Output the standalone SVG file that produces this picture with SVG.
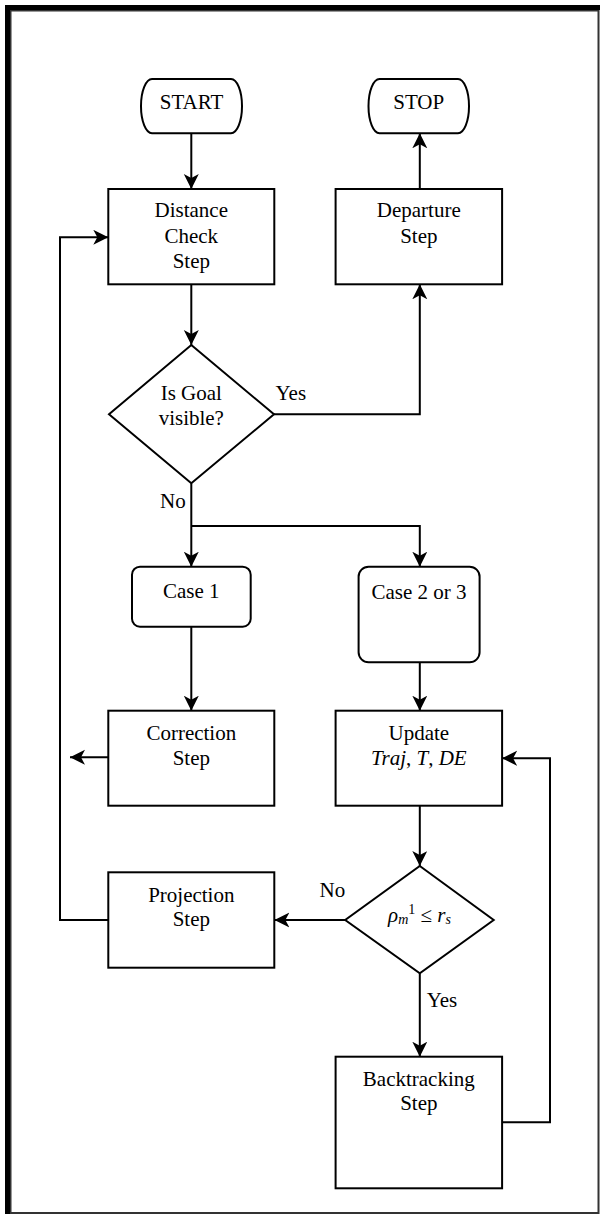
<svg xmlns="http://www.w3.org/2000/svg" width="600" height="1216" viewBox="0 0 600 1216">
<style>
.box{fill:#fff;stroke:#000;stroke-width:2}
.t{font-family:"Liberation Serif","Times New Roman",serif;font-size:21px;fill:#000;text-anchor:middle}
.l{font-family:"Liberation Serif","Times New Roman",serif;font-size:21px;fill:#000}
.c{fill:none;stroke:#000;stroke-width:2}
.i{font-style:italic}
</style>
<defs>
<marker id="ah" markerUnits="userSpaceOnUse" markerWidth="16" markerHeight="16" refX="15" refY="7.5" orient="auto">
<path d="M0,0 L15,7.5 L0,15 L4,7.5 z" fill="#000"/>
</marker>
</defs>
<rect x="0" y="0" width="600" height="1216" fill="#fff"/>
<g id="frame">
<rect x="10.5" y="10.5" width="588" height="1202.5" fill="none" stroke="#333" stroke-width="2"/>
<rect x="5" y="5" width="5" height="1209" fill="#000"/>
<rect x="5" y="5" width="595" height="5" fill="#000"/>
</g>
<g id="connectors">
<path class="c" d="M191.3,133.3 V189" marker-end="url(#ah)"/>
<path class="c" d="M191.3,284.3 V345" marker-end="url(#ah)"/>
<path class="c" d="M274,414.3 H419.8 V284.3" marker-end="url(#ah)"/>
<path class="c" d="M419.8,189 V133.3" marker-end="url(#ah)"/>
<path class="c" d="M191.3,483.3 V566.7" marker-end="url(#ah)"/>
<path class="c" d="M191.3,526 H419.8 V566.7" marker-end="url(#ah)"/>
<path class="c" d="M191.3,626.7 V710.7" marker-end="url(#ah)"/>
<path class="c" d="M419.8,627.3 V710.7" marker-end="url(#ah)"/>
<path class="c" d="M108.3,757.3 H70" marker-end="url(#ah)"/>
<path class="c" d="M419.8,805.7 V866" marker-end="url(#ah)"/>
<path class="c" d="M345.2,920 H274.4" marker-end="url(#ah)"/>
<path class="c" d="M108.3,920 H60 V237.3 H108.3" marker-end="url(#ah)"/>
<path class="c" d="M419.8,973.3 V1056.7" marker-end="url(#ah)"/>
<path class="c" d="M502.1,1122.3 H550 V758.3 H502.1" marker-end="url(#ah)"/>
<text class="l" x="275.5" y="400">Yes</text>
<text class="l" x="160" y="508.3">No</text>
<text class="l" x="319.5" y="896.7">No</text>
<text class="l" x="426.7" y="1006.7">Yes</text>
</g>
<g id="start">
<rect class="box" x="141" y="79" width="101" height="54.3" rx="11" ry="27"/>
<text class="t" x="191.5" y="108.5">START</text>
</g>
<g id="stop">
<rect class="box" x="368.5" y="79" width="100.5" height="54.3" rx="11" ry="27"/>
<text class="t" x="418.7" y="108.5">STOP</text>
</g>
<g id="distance">
<rect class="box" x="108.3" y="189" width="166" height="95.3"/>
<text class="t" x="191.3" y="217.3">Distance</text>
<text class="t" x="191.3" y="243">Check</text>
<text class="t" x="191.3" y="268">Step</text>
</g>
<g id="departure">
<rect class="box" x="335.6" y="189" width="166.5" height="95.3"/>
<text class="t" x="418.8" y="217.3">Departure</text>
<text class="t" x="418.8" y="242.7">Step</text>
</g>
<g id="goal">
<polygon class="box" points="191.3,345 274,414.3 191.3,483.3 109,414.3"/>
<text class="t" x="191.3" y="400">Is Goal</text>
<text class="t" x="191.3" y="425">visible?</text>
</g>
<g id="case1">
<rect class="box" x="132" y="566.7" width="118.7" height="60" rx="8"/>
<text class="t" x="191.3" y="598.3">Case 1</text>
</g>
<g id="case23">
<rect class="box" x="358.6" y="566.7" width="121" height="95.6" rx="10"/>
<text class="t" x="419" y="599">Case 2 or 3</text>
</g>
<g id="correction">
<rect class="box" x="108.3" y="710.7" width="166" height="95"/>
<text class="t" x="191.3" y="740">Correction</text>
<text class="t" x="191.3" y="764.5">Step</text>
</g>
<g id="update">
<rect class="box" x="335.6" y="710.7" width="166.5" height="95"/>
<text class="t" x="418.8" y="740">Update</text>
<text class="t" x="418.8" y="764.5"><tspan class="i">Traj</tspan>, <tspan class="i">T</tspan>, <tspan class="i">DE</tspan></text>
</g>
<g id="check">
<polygon class="box" points="419.8,866 493.7,920 419.8,973.3 345.2,920"/>
<text class="t" x="419.5" y="921.7"><tspan class="i">ρ</tspan><tspan class="i" font-size="14" dy="2">m</tspan><tspan font-size="14" dy="-10">1</tspan><tspan dy="8"> ≤ </tspan><tspan class="i">r</tspan><tspan class="i" font-size="14" dy="2">s</tspan></text>
</g>
<g id="projection">
<rect class="box" x="108.3" y="872.3" width="166" height="95.4"/>
<text class="t" x="191.3" y="901.7">Projection</text>
<text class="t" x="191.3" y="926">Step</text>
</g>
<g id="backtracking">
<rect class="box" x="335.6" y="1056.7" width="166.5" height="131.6"/>
<text class="t" x="418.8" y="1086">Backtracking</text>
<text class="t" x="418.8" y="1110">Step</text>
</g>
</svg>
